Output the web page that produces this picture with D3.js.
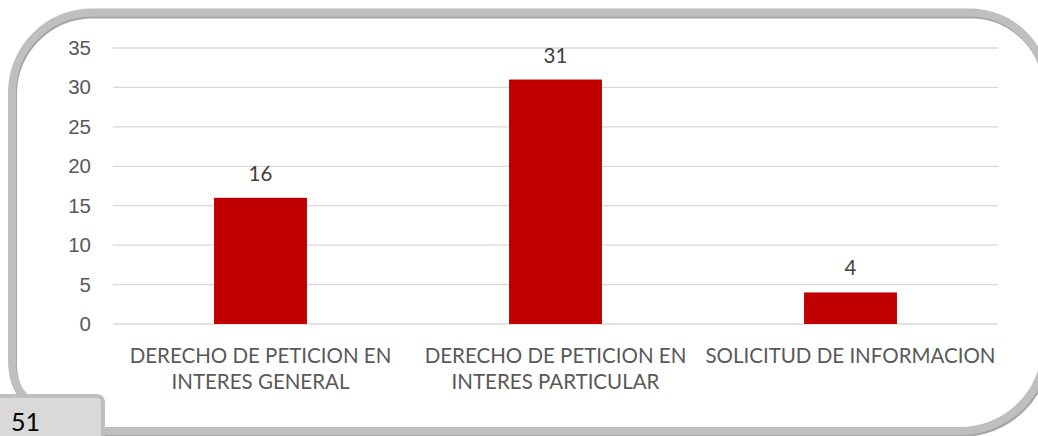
<!DOCTYPE html>
<html>
<head>
<meta charset="utf-8">
<script src="https://cdn.jsdelivr.net/npm/d3@7"></script>
<style>
  body { margin: 0; background: #fff; }
  svg { display: block; font-family: Lato, "Open Sans", sans-serif; }
</style>
</head>
<body>
<script>
// categories, values and ticks
const categories = [
  ["DERECHO DE PETICION EN", "INTERES GENERAL"],
  ["DERECHO DE PETICION EN", "INTERES PARTICULAR"],
  ["SOLICITUD DE INFORMACION"]
];
const values = [16, 31, 4];
const yTicks = [0, 5, 10, 15, 20, 25, 30, 35];
const total = 51;

const W = 1038, H = 436;
const margin = {top: 48, right: 40, bottom: 112, left: 113};
const width = W - margin.left - margin.right;
const height = H - margin.top - margin.bottom;

const svg = d3.select("body").append("svg")
  .attr("width", W)
  .attr("height", H);

// rounded frame (right side runs a little past the window)
const frame = "M 24 396 Q 12 385 12 360 L 12 92 A 80 80 0 0 1 92 12.5 L 970 12.5 A 76 76 0 0 1 1046 88.5 L 1046 345 A 86 86 0 0 1 960 431 L 95 431";
svg.append("path")
  .attr("d", frame)
  .attr("fill", "none")
  .attr("stroke", "#a6a6a6")
  .attr("stroke-width", 8)
  .attr("transform", "translate(1,2)");
svg.append("path")
  .attr("d", frame)
  .attr("fill", "none")
  .attr("stroke", "#bfbfbf")
  .attr("stroke-width", 8);

const g = svg.append("g")
  .attr("transform", "translate(" + margin.left + "," + margin.top + ")");

const x = d3.scaleBand()
  .domain(d3.range(values.length))
  .range([0, width])
  .paddingInner(0.685)
  .paddingOuter(0.3425);

const y = d3.scaleLinear()
  .domain([0, 35])
  .range([height, 0]);

// gridlines
g.selectAll("line.grid")
  .data(yTicks)
  .enter()
  .append("line")
  .attr("class", "grid")
  .attr("x1", 0)
  .attr("x2", width)
  .attr("y1", d => y(d))
  .attr("y2", d => y(d))
  .attr("stroke", "#d9d9d9")
  .attr("stroke-width", 1.3);

// y axis labels
const yAxis = g.append("g")
  .call(d3.axisLeft(y).tickValues(yTicks).tickSize(0).tickPadding(22));
yAxis.select(".domain").remove();
yAxis.selectAll("text")
  .attr("fill", "#595959")
  .style("font-size", "20.5px");

// bars
g.selectAll("rect.bar")
  .data(values)
  .enter()
  .append("rect")
  .attr("class", "bar")
  .attr("x", (d, i) => x(i))
  .attr("y", d => y(d))
  .attr("width", x.bandwidth())
  .attr("height", d => height - y(d))
  .attr("fill", "#c00000");

// value labels
g.selectAll("text.val")
  .data(values)
  .enter()
  .append("text")
  .attr("class", "val")
  .attr("x", (d, i) => x(i) + x.bandwidth() / 2)
  .attr("y", d => y(d) - 17)
  .attr("text-anchor", "middle")
  .attr("fill", "#404040")
  .style("font-size", "20.5px")
  .text(d => d);

// category labels
const cat = g.selectAll("text.cat")
  .data(categories)
  .enter()
  .append("text")
  .attr("class", "cat")
  .attr("x", (d, i) => x(i) + x.bandwidth() / 2)
  .attr("y", height + 39)
  .attr("text-anchor", "middle")
  .attr("fill", "#595959")
  .style("font-size", "20.5px");
cat.selectAll("tspan")
  .data(d => d)
  .enter()
  .append("tspan")
  .attr("x", function() { return this.parentNode.getAttribute("x"); })
  .attr("dy", (d, i) => i === 0 ? 0 : 26)
  .text(d => d);

// total tab bottom-left
svg.append("path")
  .attr("d", "M -5 396 L 96 396 Q 103 396 103 403 L 103 440 L -5 440 Z")
  .attr("fill", "#d9d9d9")
  .attr("stroke", "#bfbfbf")
  .attr("stroke-width", 4);
svg.append("text")
  .attr("x", 11)
  .attr("y", 431)
  .attr("fill", "#000")
  .style("font-size", "25px")
  .text(total);
</script>
</body>
</html>
